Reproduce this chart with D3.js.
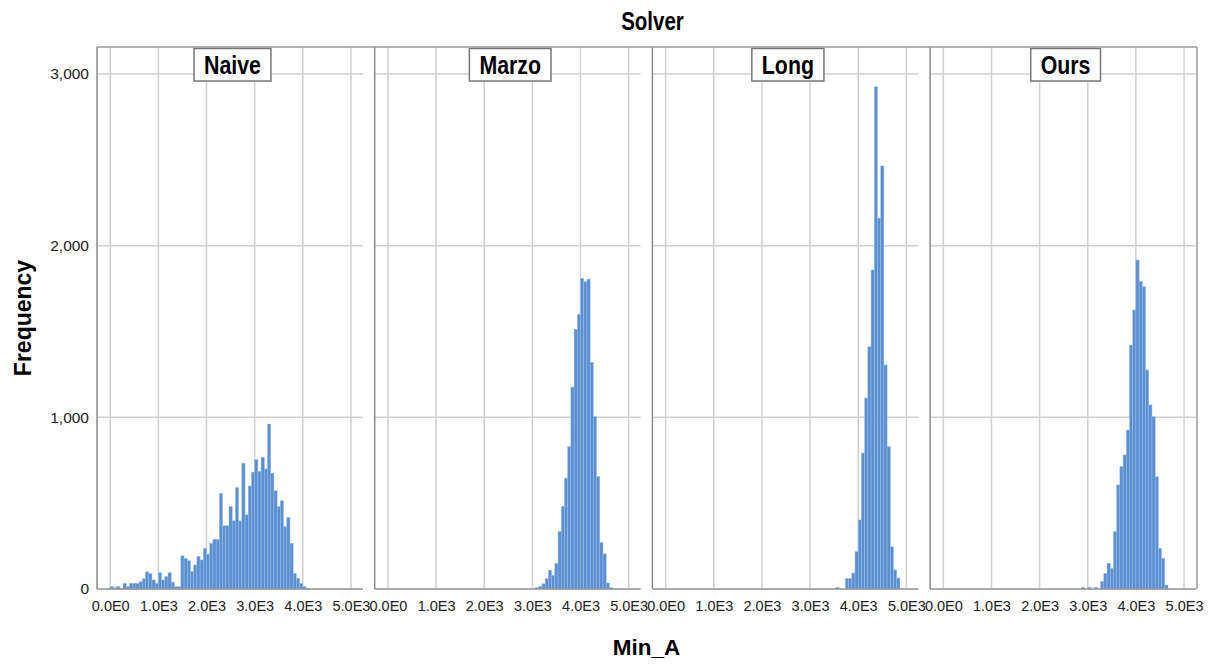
<!DOCTYPE html>
<html>
<head>
<meta charset="utf-8">
<script src="https://cdn.jsdelivr.net/npm/d3@7"></script>
<style>
  html, body { margin: 0; padding: 0; background: #fff; }
  svg { display: block; font-family: "Liberation Sans", Arial, sans-serif; }
  .grid line { stroke: #d0d0d0; stroke-width: 1.5; }
  .tick text { fill: #222; }
  .title { font-family: "Liberation Sans", Arial, sans-serif; font-weight: bold; }
</style>
</head>
<body>
<div id="chart"></div>
<script>
// Data (bin counts); bins are 1000/15 wide
const solvers = ["Naive", "Marzo", "Long", "Ours"];
const binWidth = 1000 / 15;

const naiveFirstBin = 0;
const naiveCounts = [14, 8, 14, 5, 33, 15, 33, 33, 33, 43, 60, 100, 90, 53, 33, 95, 53, 72, 95, 40,
  14, 14, 193, 179, 165, 101, 140, 189, 169, 237, 202, 267, 290, 290, 558, 368, 368, 481, 397, 591,
  397, 733, 432, 600, 681, 753, 685, 768, 700, 961, 675, 572, 481, 514, 364, 416, 267, 91, 62, 33, 14, 5];

const marzoFirstBin = 46;
const marzoCounts = [8, 15, 30, 60, 110, 80, 150, 335, 482, 646, 829, 1176, 1513, 1600, 1810, 1790, 1805,
  1320, 1005, 655, 270, 205, 35, 8];

const longFirstBin = 53;
const longCounts = [10, 0, 0, 60, 62, 93, 217, 402, 792, 1112, 1411, 1858, 2925, 2160, 2464, 1305, 829,
  246, 111, 64];

const oursFirstBin = 43;
const oursCounts = [10, 0, 10, 0, 10, 0, 43, 91, 150, 120, 334, 606, 713, 781, 926, 1421, 1625, 1916,
  1790, 1761, 1276, 1072, 1004, 654, 237, 179, 23];

const yTicks = [0, 1000, 2000, 3000];
const xTicks = [0, 1000, 2000, 3000, 4000, 5000];

const series = [
  { name: solvers[0], first: naiveFirstBin, counts: naiveCounts },
  { name: solvers[1], first: marzoFirstBin, counts: marzoCounts },
  { name: solvers[2], first: longFirstBin, counts: longCounts },
  { name: solvers[3], first: oursFirstBin, counts: oursCounts }
];

// Layout
const W = 1210, H = 664;
const left0 = 97, step = 277.7, plotW = 266;
const yTop = 47, yBase = 589, frameRight = 1197;
const narrow = 0.82; // titles use a condensed bold face

const svg = d3.select("#chart").append("svg")
  .attr("width", W).attr("height", H);

const y = d3.scaleLinear().domain([0, 3157]).range([yBase, yTop]);

function sci(d) {
  if (d === 0) return "0.0E0";
  const e = Math.floor(Math.log10(Math.abs(d)));
  return (d / Math.pow(10, e)).toFixed(1) + "E" + e;
}

// squeeze a text horizontally, return its new width
function condense(sel) {
  const w = sel.node().getComputedTextLength() * narrow;
  sel.attr("textLength", w).attr("lengthAdjust", "spacingAndGlyphs");
  return w;
}

series.forEach((s, i) => {
  const L = left0 + i * step;
  const x = d3.scaleLinear().domain([-275, 5250]).range([L, L + plotW]);
  const g = svg.append("g");

  // gridlines
  const grid = g.append("g").attr("class", "grid");
  grid.selectAll("line.h")
    .data(yTicks.filter(d => d > 0))
    .join("line")
    .attr("x1", L).attr("x2", L + plotW)
    .attr("y1", d => y(d)).attr("y2", d => y(d));
  grid.selectAll("line.v")
    .data(xTicks)
    .join("line")
    .attr("class", "v")
    .attr("x1", d => x(d)).attr("x2", d => x(d))
    .attr("y1", yTop).attr("y2", yBase);

  // bars
  const bins = s.counts.map((c, k) => ({
    x0: (s.first + k) * binWidth,
    x1: (s.first + k + 1) * binWidth,
    n: c
  })).filter(b => b.n > 0);

  g.append("g")
    .selectAll("rect")
    .data(bins)
    .join("rect")
    .attr("x", b => x(b.x0))
    .attr("width", b => x(b.x1) - x(b.x0))
    .attr("y", b => y(b.n))
    .attr("height", b => yBase - y(b.n))
    .attr("fill", "#5a8fd2")
    .attr("stroke", "#9cbde6")
    .attr("stroke-width", 0.5);

  // x axis labels
  const xa = g.append("g")
    .attr("transform", `translate(0,${yBase})`)
    .call(d3.axisBottom(x).tickValues(xTicks).tickFormat(sci).tickSize(0).tickPadding(12));
  xa.select(".domain").remove();
  xa.selectAll("text").style("font-size", "14.5px");

  // baseline + left border
  g.append("line")
    .attr("x1", L).attr("x2", L + plotW)
    .attr("y1", yBase).attr("y2", yBase)
    .attr("stroke", "#909090").attr("stroke-width", 1.5);
  g.append("line")
    .attr("x1", L).attr("x2", L)
    .attr("y1", yTop).attr("y2", yBase)
    .attr("stroke", "#8a8a8a").attr("stroke-width", 1.5);

  // strip label box
  const cx = L + 135.5;
  const lab = g.append("text")
    .attr("class", "title")
    .attr("x", cx).attr("y", 74)
    .attr("text-anchor", "middle")
    .style("font-size", "26px")
    .text(s.name);
  const tw = condense(lab);
  g.insert("rect", "text.title")
    .attr("x", cx - tw / 2 - 10).attr("y", 48.5)
    .attr("width", tw + 20).attr("height", 32.5)
    .attr("fill", "#fff")
    .attr("stroke", "#777").attr("stroke-width", 1.5);
});

// y axis labels
const ya = svg.append("g")
  .attr("transform", `translate(${left0},0)`)
  .call(d3.axisLeft(y).tickValues(yTicks).tickFormat(d3.format(",")).tickSize(0).tickPadding(8));
ya.select(".domain").remove();
ya.selectAll("text").style("font-size", "15.5px");

// outer frame top + right
svg.append("line")
  .attr("x1", left0).attr("x2", frameRight)
  .attr("y1", yTop).attr("y2", yTop)
  .attr("stroke", "#999").attr("stroke-width", 1.5);
svg.append("line")
  .attr("x1", frameRight).attr("x2", frameRight)
  .attr("y1", yTop).attr("y2", yBase)
  .attr("stroke", "#999").attr("stroke-width", 1.5);

// titles
const solverTitle = svg.append("text")
  .attr("class", "title")
  .attr("x", 652.5).attr("y", 30)
  .attr("text-anchor", "middle")
  .style("font-size", "25px")
  .text("Solver");
condense(solverTitle);

svg.append("text")
  .attr("transform", "translate(31,318) rotate(-90)")
  .attr("text-anchor", "middle")
  .style("font-size", "23px")
  .style("font-weight", "bold")
  .text("Frequency");

svg.append("text")
  .attr("x", 646.5).attr("y", 655)
  .attr("text-anchor", "middle")
  .style("font-size", "22.5px")
  .style("font-weight", "bold")
  .text("Min_A");
</script>
</body>
</html>
